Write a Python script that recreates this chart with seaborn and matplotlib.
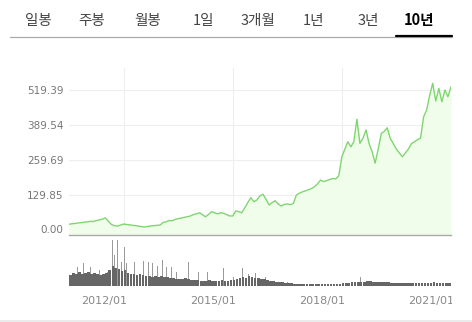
import matplotlib
matplotlib.use("Agg")
import matplotlib.pyplot as plt
import seaborn as sns
import pandas as pd
import numpy as np
from matplotlib.lines import Line2D
from matplotlib.transforms import Bbox, ScaledTranslation

# ---------------- data ----------------
tabs = ["일봉", "주봉", "월봉", "1일", "3개월", "1년", "3년", "10년"]
active_tab = "10년"

price = [
    19, 21, 22, 24, 25, 27,                                  # 2010 Jul-Dec
    28, 30, 29, 33, 35, 38, 43, 30, 18, 14, 12, 16,           # 2011
    20, 18, 17, 15, 14, 12, 10, 9, 11, 13, 14, 15,            # 2012
    16, 26, 28, 33, 32, 37, 40, 42, 45, 47, 50, 55,           # 2013
    58, 62, 55, 47, 55, 66, 62, 58, 62, 60, 55, 50,           # 2014
    50, 69, 66, 62, 80, 100, 118, 103, 110, 125, 131, 112,    # 2015
    91, 100, 107, 95, 87, 93, 95, 92, 97, 128, 135, 140,      # 2016
    144, 148, 152, 159, 170, 184, 178, 182, 186, 190, 188, 200,  # 2017
    271, 300, 327, 308, 327, 411, 321, 340, 371, 320, 290, 247,  # 2018
    300, 358, 365, 379, 340, 320, 300, 285, 271, 285, 300, 320,  # 2019
    327, 335, 340, 420, 445, 500, 545, 479, 526, 476, 520, 495,  # 2020
    532,                                                      # 2021 Jan
]
dates = pd.date_range("2010-07-01", periods=len(price), freq="MS")

volume = [
    11, 13, 12, 14, 12, 13,
    14, 12, 13, 12, 11, 12, 13, 16, 20, 18, 17, 15,
    16, 13, 12, 12, 11, 12, 11, 10, 10, 9, 10, 9,
    10, 9, 9, 8, 8, 7, 7, 7, 8, 7, 6, 6,
    6, 5, 5, 5, 6, 5, 5, 5, 6, 5, 5, 6,
    6, 7, 8, 9, 8, 10, 9, 8, 8, 7, 7, 6,
    5, 5, 4, 4, 4, 3, 3, 3, 2, 2, 2, 2,
    2, 2, 2, 2, 2, 2, 2, 2, 2, 2, 2, 2,
    3, 3, 3, 4, 4, 4, 4, 4, 5, 5, 4, 4,
    4, 4, 4, 4, 3, 3, 3, 3, 3, 3, 3, 3,
    3, 3, 3, 3, 3, 3, 4, 3, 3, 3, 3, 3,
    2,
]

spike_dates = pd.to_datetime([
    "2010-08-08", "2010-09-24", "2010-11-24", "2011-02-02", "2011-05-04",
    "2011-07-22", "2011-09-12", "2011-10-01", "2011-11-01", "2011-12-10",
    "2012-01-10", "2012-01-30", "2012-04-20", "2012-06-01", "2012-07-20",
    "2012-09-08", "2012-10-18", "2012-12-08", "2013-01-26", "2013-03-08",
    "2013-04-26", "2013-06-16", "2013-10-15", "2014-01-23", "2014-04-23",
    "2014-10-01", "2015-01-10", "2015-04-10", "2015-06-10", "2015-08-18",
    "2015-11-28", "2016-03-28", "2016-07-05", "2018-01-10", "2018-07-08",
    "2018-12-28", "2020-07-13",
])
spike_vol = [21, 19, 23, 19, 16, 14, 46, 31, 46, 24, 39, 23, 24, 19, 25,
             24, 23, 20, 26, 19, 19, 14, 24, 14, 14, 18, 9, 18, 12, 13,
             9, 9, 4, 6, 9, 6, 6]

ytick_vals = [0.00, 129.85, 259.69, 389.54, 519.39]
xtick_dates = pd.to_datetime(["2012-01-01", "2015-01-01", "2018-01-01", "2021-01-01"])
xtick_labels = ["2012/01", "2015/01", "2018/01", "2021/01"]

# ---------------- figure ----------------
sns.set_style("white")
plt.rcParams["font.family"] = ["DejaVu Sans"]

W, H = 472, 322
fig = plt.figure(figsize=(W / 100, H / 100), dpi=100)
fig.patch.set_facecolor("white")

def fx(px):
    return px / W

def fy(py):
    return 1 - py / H

# tab bar
tab_x = [38, 92, 148, 203, 258, 313, 368, 419]
for t, x in zip(tabs, tab_x):
    bold = t == active_tab
    fig.text(fx(x), fy(20.5), t, ha="center", va="center", fontsize=10.5,
             color="black" if bold else "#444444",
             fontweight="bold" if bold else "normal",
             family=["Noto Sans CJK KR", "DejaVu Sans"])
fig.add_artist(Line2D([fx(10), fx(452)], [fy(36.5), fy(36.5)], color="#aaaaaa", lw=0.9))
fig.add_artist(Line2D([fx(396), fx(452)], [fy(35.5), fy(35.5)], color="black", lw=1.6))
fig.add_artist(Line2D([0, 1], [fy(320.5), fy(320.5)], color="#e8e8e8", lw=1.2))

# price axes
ax1 = fig.add_axes([fx(69), fy(235), fx(451 - 69), (235 - 68) / H])
df = pd.DataFrame({"date": dates, "price": price})
ax1.fill_between(df["date"], df["price"], -30, color="#effdea", lw=0, zorder=1)
sns.lineplot(data=df, x="date", y="price", ax=ax1, color="#7fd66f", lw=1.0, zorder=3)
ax1.set_xlim(dates[0], dates[-1])
ax1.set_ylim(-21, 602)
ax1.set_yticks(ytick_vals)
ax1.set_yticklabels([f"{v:.2f}" for v in ytick_vals])
ax1.set_xticks(xtick_dates)
ax1.set_xticklabels([])
ax1.set_xlabel("")
ax1.set_ylabel("")
ax1.grid(True, color="#eeeeee", lw=0.8, zorder=0)
ax1.set_axisbelow(True)
ax1.tick_params(axis="y", length=0, pad=4, labelsize=7.5, labelcolor="#777777")
ax1.tick_params(axis="x", length=0)
for s in ["top", "right", "left"]:
    ax1.spines[s].set_visible(False)
ax1.spines["bottom"].set_color("#aaaaaa")
ax1.spines["bottom"].set_linewidth(1.0)
ax1.patch.set_alpha(0)

# volume axes
ax2 = fig.add_axes([fx(69), fy(286), fx(451 - 69), 46 / H])
ax2.bar(spike_dates, spike_vol, width=5, color="#9a9a9a", lw=0, zorder=2)
ax2.bar(dates, volume, width=26, align="edge", color="#666666", lw=0, zorder=3)
ax2.set_xlim(dates[0], dates[-1])
ax2.set_ylim(0, 46)
ax2.set_yticks([])
ax2.set_xticks(xtick_dates)
ax2.set_xticklabels(xtick_labels)
ax2.tick_params(axis="x", length=3, width=0.8, color="#cccccc", pad=4,
                labelsize=8, labelcolor="#888888")
for s in ["top", "right", "left", "bottom"]:
    ax2.spines[s].set_visible(False)
ax2.patch.set_alpha(0)
clip = Bbox([[0, 0], [452, H]])
offset = ScaledTranslation(3 / 100, 0, fig.dpi_scale_trans)
for lab in ax2.get_xticklabels():
    lab.set_horizontalalignment("right")
    lab.set_transform(lab.get_transform() + offset)
    lab.set_clip_on(True)
    lab.set_clip_box(clip)

fig.savefig("out.png", dpi=100, facecolor="white")
